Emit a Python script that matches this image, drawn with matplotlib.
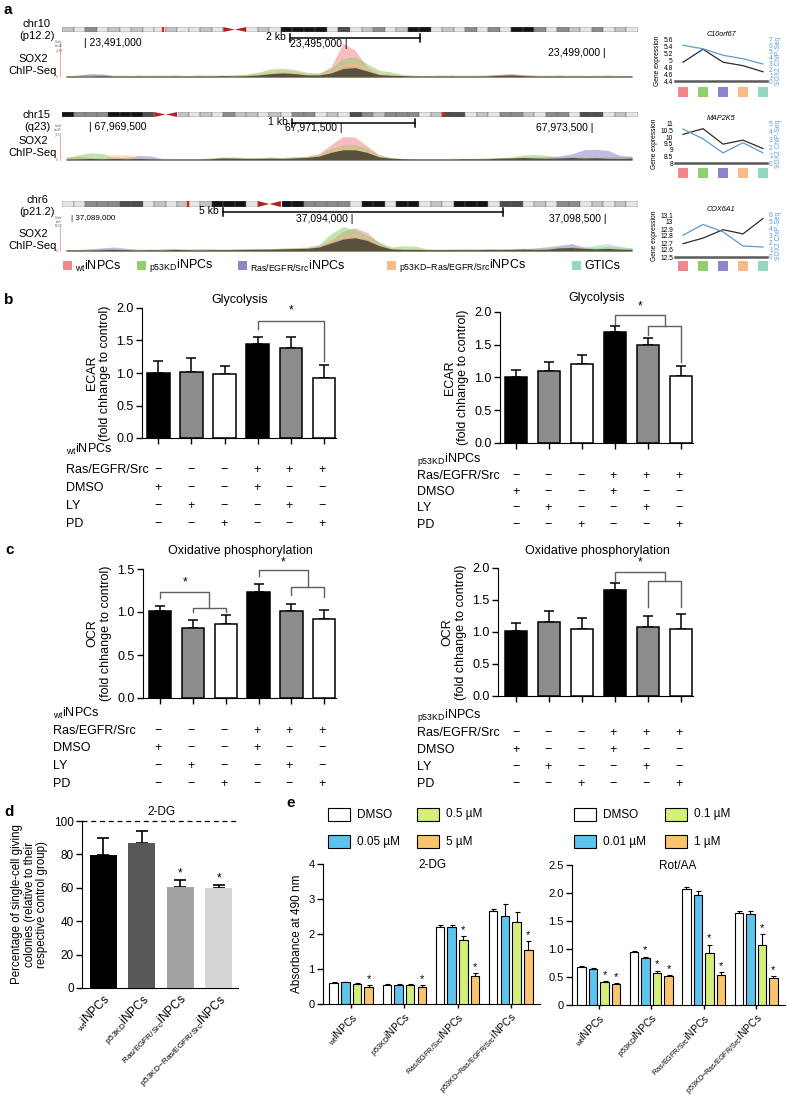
import numpy as np
import matplotlib
matplotlib.use('Agg')
import matplotlib.pyplot as plt
from matplotlib.patches import Rectangle, Polygon
from matplotlib.ticker import FormatStrFormatter

plt.rcParams['font.family'] = ['Liberation Sans', 'DejaVu Sans']
plt.rcParams['mathtext.fontset'] = 'custom'
plt.rcParams['mathtext.rm'] = 'Liberation Sans'
plt.rcParams['mathtext.it'] = 'Liberation Sans:italic'
plt.rcParams['mathtext.bf'] = 'Liberation Sans:bold'
plt.rcParams['mathtext.sf'] = 'Liberation Sans'

# ============================ DATA ============================
SAMPLE_NAMES = ['wt', 'p53KD', 'Ras/EGFR/Src', 'p53KD{-}Ras/EGFR/Src', 'GTICs']

# --- panel a: SOX2 ChIP-seq coverage (48 bins per locus, relative units) ---
CHR10_WT = [0.4,0.5,0.8,0.6,0.3,0.4,0.5,0.3,0.4,0.6,0.4,0.3,0.4,0.5,0.4,0.6,0.8,1.2,1.5,1.3,0.9,1.0,3.0,10.0,8.0,3.0,1.0,0.6,0.5,0.4,0.4,0.5,0.3,0.4,0.5,0.6,0.8,1.0,0.7,0.5,0.4,0.5,0.4,0.3,0.5,0.4,0.3,0.4]
CHR10_KD = [0.5,0.4,0.5,0.7,0.4,0.5,0.3,0.6,0.5,0.4,0.3,0.5,0.6,0.4,0.7,0.9,1.5,2.4,2.6,2.2,1.4,1.2,2.5,5.5,6.0,4.0,2.0,1.5,0.7,0.5,0.4,0.6,0.4,0.5,0.3,0.5,0.6,0.7,0.5,0.4,0.5,0.6,0.3,0.4,0.5,0.4,0.5,0.4]
CHR10_RAS = [0.3,0.6,1.0,0.9,0.4,0.3,0.5,0.4,0.3,0.5,0.4,0.6,0.3,0.4,0.5,0.4,0.6,1.0,1.2,1.0,0.6,0.7,1.2,3.0,3.2,2.0,0.8,0.5,0.4,0.3,0.5,0.4,0.6,0.3,0.4,0.5,0.7,0.9,0.6,0.4,0.3,0.4,0.5,0.4,0.3,0.5,0.4,0.3]
CHR10_KDRAS = [0.4,0.3,0.5,0.4,0.6,0.5,0.4,0.3,0.6,0.4,0.5,0.3,0.4,0.6,0.5,0.7,1.2,2.0,2.2,1.8,1.0,0.9,1.8,4.0,4.5,2.8,1.2,0.8,0.5,0.4,0.3,0.5,0.4,0.6,0.4,0.3,0.6,0.8,0.5,0.6,0.4,0.3,0.5,0.6,0.4,0.3,0.4,0.5]
CHR10_GTIC = [0.3,0.4,0.3,0.5,0.3,0.4,0.6,0.4,0.3,0.3,0.5,0.4,0.3,0.4,0.3,0.5,0.8,1.2,1.4,1.1,0.6,0.6,1.2,2.5,2.8,1.8,0.7,0.5,0.4,0.5,0.4,0.3,0.5,0.4,0.6,0.4,0.5,0.6,0.4,0.3,0.5,0.4,0.4,0.3,0.5,0.6,0.4,0.3]

CHR15_WT = [1.2,1.5,1.0,0.8,0.6,0.5,0.6,0.5,0.4,0.5,0.4,0.5,0.6,0.8,0.7,0.6,0.8,0.9,1.0,1.2,1.5,2.5,6.0,9.2,9.0,5.5,2.0,0.8,0.5,0.6,0.4,0.5,0.4,0.6,0.5,0.7,0.8,0.9,1.0,0.8,0.7,0.9,1.0,0.8,0.9,0.7,0.6,0.8]
CHR15_KD = [0.8,2.0,2.8,2.6,1.2,1.0,0.8,0.6,0.5,0.6,0.5,0.6,0.8,1.2,1.0,0.8,1.0,1.2,1.0,1.2,1.4,2.0,4.5,6.0,6.0,4.5,2.0,1.0,0.6,0.5,0.6,0.5,0.7,0.6,0.6,0.8,0.9,1.2,2.0,2.2,1.8,1.0,1.2,1.2,1.0,1.2,1.4,1.0]
CHR15_RAS = [0.4,0.5,0.6,0.5,0.8,1.0,1.8,1.6,0.6,0.5,0.4,0.5,0.6,0.9,1.0,0.8,0.7,0.8,0.6,0.8,1.0,1.5,3.0,4.0,4.0,3.0,1.2,0.7,0.5,0.4,0.5,0.4,0.5,0.6,0.5,0.6,0.7,0.8,1.0,1.0,1.2,1.6,2.4,4.0,4.2,3.8,1.8,1.5]
CHR15_KDRAS = [0.6,0.8,1.0,0.8,2.0,2.0,1.0,0.7,0.5,0.6,0.5,0.4,0.7,1.0,1.2,1.0,0.8,0.9,0.8,1.0,1.2,1.8,4.0,5.5,5.2,4.0,1.5,0.8,0.6,0.5,0.4,0.5,0.6,0.5,0.7,0.6,0.8,1.0,1.2,1.3,1.0,0.9,1.0,1.2,1.1,1.0,0.9,0.8]
CHR15_GTIC = [0.5,0.6,0.8,0.7,0.6,0.7,0.8,0.6,0.5,0.4,0.5,0.4,0.5,0.8,0.7,0.6,0.6,0.7,0.8,0.9,1.0,1.5,3.0,4.0,4.2,3.0,1.2,0.7,0.5,0.4,0.5,0.6,0.4,0.5,0.6,0.5,0.7,0.8,1.0,1.1,0.9,0.8,1.0,1.0,1.2,1.0,0.8,0.9]

CHR6_WT = [0.5,0.6,0.4,0.8,0.6,0.5,0.4,0.6,0.5,0.7,0.5,0.4,0.5,0.6,0.5,0.7,0.6,0.8,0.9,1.0,1.2,1.8,4.0,7.5,8.8,7.0,3.0,1.0,0.7,0.6,0.5,0.6,0.5,0.7,0.5,0.6,0.5,0.7,0.8,0.6,0.7,1.2,1.5,1.0,0.8,1.0,0.7,0.6]
CHR6_KD = [0.6,0.5,0.7,0.6,0.8,0.6,0.7,0.5,0.8,1.0,0.7,0.6,0.9,0.7,0.8,0.9,1.0,0.8,1.2,1.3,1.5,2.5,6.5,9.2,8.0,6.0,3.5,1.5,2.0,1.8,0.8,0.7,0.6,0.8,0.7,0.6,0.8,0.9,1.0,0.9,1.0,1.3,1.5,1.2,1.2,1.8,1.5,1.2]
CHR6_RAS = [0.4,0.6,0.8,1.2,1.5,1.0,0.6,0.5,0.7,0.6,0.5,0.8,0.6,0.5,0.7,0.6,0.8,0.7,0.9,1.0,1.2,1.6,3.5,5.0,5.5,4.5,2.0,0.8,0.6,0.7,0.5,0.6,0.7,0.5,0.6,0.8,0.7,0.6,0.9,1.2,1.6,2.2,2.8,1.5,0.9,1.0,0.8,0.7]
CHR6_KDRAS = [0.5,0.4,0.6,0.5,0.7,0.6,0.5,0.6,0.4,0.6,0.8,0.6,0.5,0.7,0.6,0.8,0.7,0.9,1.0,1.1,1.3,2.0,4.5,6.0,6.5,5.0,2.5,1.0,0.8,0.7,0.6,0.5,0.7,0.6,0.8,0.6,0.7,0.8,0.7,0.9,1.0,1.2,1.4,1.1,1.0,1.2,0.9,0.8]
CHR6_GTIC = [0.4,0.5,0.6,0.5,0.6,0.5,0.6,0.7,0.5,0.6,0.5,0.7,0.6,0.5,0.6,0.7,0.6,0.8,0.8,0.9,1.0,1.5,3.0,4.5,5.0,4.0,2.0,0.8,0.7,0.6,0.7,0.5,0.6,0.7,0.6,0.7,0.8,0.7,0.8,1.0,1.1,1.2,1.3,1.6,2.2,2.8,1.8,1.0]

# ideogram band stain levels (0 light .. 4 black, -1 centromere) and locus position (band units)
CHR10_BANDS = [1,0,2,0,1,0,1,0,0,1,0,0,1,0,-1,-1,0,1,0,4,4,4,4,0,3,0,1,2,0,1,4,4,0,1,0,2,0,2,0,4,4,2,0,2,1,0,2,0,1,0]
CHR15_BANDS = [4,2,2,2,4,4,4,3,-1,-1,1,0,1,0,2,1,1,0,1,0,2,2,0,1,0,3,2,1,2,2,2,0,1,3,3,0,1,0,2,2,1,0,2,2,0,3,3,0,1,0]
CHR6_BANDS = [0,0,2,2,2,3,3,0,1,0,1,0,1,4,4,4,0,-1,-1,4,4,2,2,2,2,0,4,4,0,4,4,0,1,0,4,4,4,0,3,3,0,1,0,2,2,0,1,0,1,0]
CHR10_LOCUS = 8.8
CHR15_LOCUS = 33.1
CHR6_LOCUS = 10.9

# --- panel a right: expression vs SOX2 ChIP ---
C10_EXPR = [4.95, 5.33, 4.95, 4.85, 4.67]
C10_CHIP = [6.1, 5.5, 4.4, 3.8, 2.9]
MAP_EXPR = [10.2, 10.64, 9.45, 9.76, 9.11]
MAP_CHIP = [4.35, 3.1, 1.3, 2.6, 1.3]
COX_EXPR = [12.69, 12.77, 12.89, 12.83, 13.05]
COX_CHIP = [3.1, 4.65, 3.6, 1.57, 1.43]

# --- panel b/c ---
TABLE_ROWS = ['Ras/EGFR/Src', 'DMSO', 'LY', 'PD']
TABLE_SIGNS = [['−', '−', '−', '+', '+', '+'],
               ['+', '−', '−', '+', '−', '−'],
               ['−', '+', '−', '−', '+', '−'],
               ['−', '−', '+', '−', '−', '+']]
B_WT_VALS = [1.00, 1.02, 0.99, 1.44, 1.39, 0.93]
B_WT_ERR = [0.18, 0.21, 0.12, 0.12, 0.17, 0.19]
B_KD_VALS = [1.01, 1.10, 1.20, 1.69, 1.49, 1.03]
B_KD_ERR = [0.10, 0.13, 0.15, 0.09, 0.12, 0.15]
C_WT_VALS = [1.01, 0.81, 0.86, 1.23, 1.01, 0.92]
C_WT_ERR = [0.06, 0.10, 0.10, 0.10, 0.08, 0.10]
C_KD_VALS = [1.01, 1.15, 1.05, 1.65, 1.08, 1.05]
C_KD_ERR = [0.13, 0.18, 0.17, 0.12, 0.17, 0.23]

# --- panel d ---
D_GROUPS = ['wt', 'p53KD', 'Ras/EGFR/Src', 'p53KD{-}Ras/EGFR/Src']
D_VALS = [79.4, 87.0, 60.6, 59.6]
D_ERR = [10.5, 6.8, 3.8, 2.2]
D_STARS = [False, False, True, True]

# --- panel e ---
E_DG_DOSES = ['DMSO', '0.05 µM', '0.5 µM', '5 µM']
E_DG_DMSO = [0.60, 0.55, 2.20, 2.66]
E_DG_LOW = [0.62, 0.55, 2.20, 2.51]
E_DG_MID = [0.58, 0.54, 1.82, 2.34]
E_DG_HIGH = [0.50, 0.50, 0.80, 1.55]
E_DG_ERR = [[0.02, 0.02, 0.06, 0.06], [0.02, 0.02, 0.06, 0.35],
            [0.02, 0.02, 0.12, 0.29], [0.03, 0.03, 0.08, 0.25]]
E_DG_STAR = [[0, 0, 0, 0], [0, 0, 0, 0], [0, 0, 1, 0], [1, 1, 1, 1]]

E_RA_DOSES = ['DMSO', '0.01 µM', '0.1 µM', '1 µM']
E_RA_DMSO = [0.67, 0.94, 2.07, 1.64]
E_RA_LOW = [0.64, 0.84, 1.96, 1.62]
E_RA_MID = [0.41, 0.58, 0.93, 1.08]
E_RA_HIGH = [0.37, 0.51, 0.54, 0.49]
E_RA_ERR = [[0.02, 0.02, 0.03, 0.04], [0.02, 0.02, 0.07, 0.05],
            [0.02, 0.03, 0.15, 0.18], [0.02, 0.02, 0.05, 0.02]]
E_RA_STAR = [[0, 0, 0, 0], [0, 1, 0, 0], [1, 1, 1, 1], [1, 1, 1, 1]]

# ============================ STYLE ============================
SAMPLE_COLORS = ['#f2878b', '#8fcf6f', '#8a86cc', '#f9bb86', '#93d8bd']
BAND_COLORS = {0: '#e6e6e6', 1: '#c4c4c4', 2: '#8c8c8c', 3: '#4d4d4d', 4: '#141414'}
BAR_FILL = ['black', '#8c8c8c', 'white', 'black', '#8c8c8c', 'white']
D_COLORS = ['#000000', '#585858', '#a3a3a3', '#d4d4d4']
E_COLORS = ['white', '#5ec4ee', '#d3ee79', '#f9c46e']
BLUE = '#5b9bd5'

W, H = 788, 1113
fig = plt.figure(figsize=(W / 100, H / 100), dpi=100)


def px_ax(x0, y0, x1, y1, **kw):
    return fig.add_axes([x0 / W, 1 - y1 / H, (x1 - x0) / W, (y1 - y0) / H], **kw)


ov = fig.add_axes([0, 0, 1, 1], zorder=30)
ov.set_xlim(0, W)
ov.set_ylim(H, 0)
ov.axis('off')


def T(x, y, s, **kw):
    kw.setdefault('fontsize', 8.5)
    kw.setdefault('va', 'center')
    ov.text(x, y, s, **kw)


def sub(prefix, main='iNPCs'):
    return r'$_{\mathrm{%s}}$%s' % (prefix, main)


# panel letters
for lx, ly, l in [(4, 10, 'a'), (4, 300, 'b'), (5, 550, 'c'), (4, 812, 'd'), (286, 803, 'e')]:
    T(lx, ly, l, fontsize=11, fontweight='bold')

# ============================ PANEL A ============================
tracks = [
    dict(bands=CHR10_BANDS, locus=CHR10_LOCUS, ideo=(27, 32), chrom='chr10\n(p12.2)', chrom_y=30,
         sig=[CHR10_WT, CHR10_KD, CHR10_RAS, CHR10_KDRAS, CHR10_GTIC], base=77, top=40, ymax=11.0,
         sox_y=65, scale=('2 kb', 290, 420, 38), coords=[('| 23,491,000', 84, 43, 'left', 7.5),
                                                        ('23,495,000 |', 348, 44, 'right', 7.5),
                                                        ('23,499,000 |', 606, 53, 'right', 7.5)],
         scl='Scale\nchr10\n_0.87', scl_y=46),
    dict(bands=CHR15_BANDS, locus=CHR15_LOCUS, ideo=(112, 117), chrom='chr15\n(q23)', chrom_y=121,
         sig=[CHR15_WT, CHR15_KD, CHR15_RAS, CHR15_KDRAS, CHR15_GTIC], base=160, top=133, ymax=10.6,
         sox_y=147, scale=('1 kb', 292, 415, 123), coords=[('| 67,969,500', 89, 127, 'left', 7.5),
                                                           ('67,971,500 |', 343, 128, 'right', 7.5),
                                                           ('67,973,500 |', 593, 128, 'right', 7.5)],
         scl='Scale\nchr15\n_0.57', scl_y=130),
    dict(bands=CHR6_BANDS, locus=CHR6_LOCUS, ideo=(201, 207), chrom='chr6\n(p21.2)', chrom_y=206,
         sig=[CHR6_WT, CHR6_KD, CHR6_RAS, CHR6_KDRAS, CHR6_GTIC], base=251, top=224, ymax=10.2,
         sox_y=240, scale=('5 kb', 223, 503, 212), coords=[('| 37,089,000', 71, 219, 'left', 5.8),
                                                           ('37,094,000 |', 353, 219, 'right', 7.5),
                                                           ('37,098,500 |', 607, 219, 'right', 7.5)],
         scl='Scale\nchr6\n12.58', scl_y=222),
]

for tr in tracks:
    # ideogram
    iy0, iy1 = tr['ideo']
    iax = px_ax(62, iy0, 638, iy1)
    nb = len(tr['bands'])
    iax.set_xlim(0, nb)
    iax.set_ylim(0, 1)
    iax.axis('off')
    xs = np.arange(nb)
    cols = [BAND_COLORS[b] if b >= 0 else 'white' for b in tr['bands']]
    iax.bar(xs, 1, width=1.0, align='edge', color=cols, edgecolor='#666666', linewidth=0.3)
    cen = [i for i, b in enumerate(tr['bands']) if b < 0]
    if cen:
        c0, c1 = cen[0], cen[-1] + 1
        cm = (c0 + c1) / 2
        iax.bar([c0], 1, width=c1 - c0, align='edge', color='white', edgecolor='white', linewidth=0.8)
        iax.add_patch(Polygon([[c0, 0], [c0, 1], [cm, 0.5]], closed=True, color='#b22222', lw=0))
        iax.add_patch(Polygon([[c1, 0], [c1, 1], [cm, 0.5]], closed=True, color='#b22222', lw=0))
    iax.axvline(tr['locus'], color='#e0201e', lw=1.6)
    # chrom label
    T(37, tr['chrom_y'], tr['chrom'], ha='center', fontsize=8, linespacing=1.15)
    # scale bar
    lab, sx0, sx1, sy = tr['scale']
    ov.plot([sx0, sx1], [sy, sy], color='black', lw=1.1)
    ov.plot([sx0, sx0], [sy - 4, sy + 4], color='black', lw=1.1)
    ov.plot([sx1, sx1], [sy - 4, sy + 4], color='black', lw=1.1)
    T(sx0 - 4, sy - 1, lab, ha='right', fontsize=7.5)
    for txt, cx, cy, ha, fs in tr['coords']:
        T(cx, cy, txt, ha=ha, fontsize=fs)
    # ChIP-seq track
    tax = px_ax(60, tr['top'], 638, tr['base'])
    tax.set_xlim(-0.5, 47.5)
    tax.set_ylim(0, tr['ymax'])
    tax.axis('off')
    xb = np.arange(len(tr['sig'][0]))
    for vals, c in zip(tr['sig'], SAMPLE_COLORS):
        tax.fill_between(xb, 0, vals, color=c, alpha=0.55, lw=0)
    stack = np.array(tr['sig'])
    tax.fill_between(xb, 0, stack.min(axis=0), color='#3b2a16', alpha=0.75, lw=0)
    ov.plot([60, 60], [tr['top'] + 3, tr['base']], color='#f08080', lw=0.5)
    T(62, tr['scl_y'], tr['scl'], ha='right', fontsize=2.2, color='#555555', linespacing=1.0)
    T(58, tr['base'], '0', ha='right', fontsize=2.2, color='#555555')
    T(33, tr['sox_y'], 'SOX2\nChIP-Seq', ha='center', fontsize=8, linespacing=1.15)

# legend row
leg_items = [(63, sub('wt')), (137, sub('p53KD')), (238, sub('Ras/EGFR/Src')),
             (387, sub('p53KD{-}Ras/EGFR/Src')), (572, 'GTICs')]
for (lx, lab), c in zip(leg_items, SAMPLE_COLORS):
    ov.add_patch(Rectangle((lx, 261), 9, 9, color=c, lw=0))
    T(lx + 12, 266, lab, ha='left', fontsize=9)

# mini charts
minis = [
    dict(box=(675, 40, 767, 81), title='C10orf67', expr=C10_EXPR, chip=C10_CHIP, ylim=(4.4, 5.6),
         yt=[4.4, 4.6, 4.8, 5.0, 5.2, 5.4, 5.6], ytl=['4.4', '4.6', '4.8', '5', '5.2', '5.4', '5.6'],
         rlim=(0, 7), rt=list(range(8)), sq=10),
    dict(box=(675, 124, 767, 163), title='MAP2K5', expr=MAP_EXPR, chip=MAP_CHIP, ylim=(8, 11),
         yt=[8, 8.5, 9, 9.5, 10, 10.5, 11], ytl=['8', '8.5', '9', '9.5', '10', '10.5', '11'],
         rlim=(0, 5), rt=list(range(6)), sq=9),
    dict(box=(675, 215, 767, 257), title='COX6A1', expr=COX_EXPR, chip=COX_CHIP, ylim=(12.5, 13.1),
         yt=[12.5, 12.6, 12.7, 12.8, 12.9, 13.0, 13.1],
         ytl=['12.5', '12.6', '12.7', '12.8', '12.9', '13', '13.1'],
         rlim=(0, 6), rt=list(range(7)), sq=8),
]
for m in minis:
    x0, y0, x1, y1 = m['box']
    ax = px_ax(x0, y0, x1, y1)
    xx = np.arange(len(m['expr']))
    ax.plot(xx, m['expr'], color='#2b2b2b', lw=0.9, zorder=3)
    ax.set_xlim(-0.4, 4.2)
    ax.set_ylim(*m['ylim'])
    ax.set_yticks(m['yt'])
    ax.set_yticklabels(m['ytl'], fontsize=4.8)
    ax.tick_params(axis='y', length=0, pad=1.5)
    ax.set_xticks([])
    for s in ['top', 'right', 'left']:
        ax.spines[s].set_visible(False)
    ax.spines['bottom'].set_color('#5a5a5a')
    ax.spines['bottom'].set_linewidth(1.8)
    ax.set_ylabel('Gene expression', fontsize=4.8, labelpad=1.5)
    ax.set_title(m['title'], fontstyle='italic', fontsize=5.2, pad=3)
    ax2 = ax.twinx()
    ax2.plot(xx, m['chip'], color=BLUE, lw=0.9)
    ax2.set_ylim(*m['rlim'])
    ax2.set_yticks(m['rt'])
    ax2.set_yticklabels([str(v) for v in m['rt']], fontsize=4.8, color=BLUE)
    ax2.tick_params(axis='y', length=0, pad=1.5)
    for s in ['top', 'right', 'left', 'bottom']:
        ax2.spines[s].set_visible(False)
    ax2.set_ylabel('SOX2 ChIP-Seq', fontsize=4.8, color=BLUE, labelpad=1.5)
    sq_frac = -(m['sq'] + 1) / (y1 - y0)
    ax.scatter(xx, [sq_frac] * len(xx), marker='s', s=44, c=SAMPLE_COLORS,
               transform=ax.get_xaxis_transform(), clip_on=False, linewidths=0)

# ============================ PANELS B/C ============================


def bar_panel(box, vals, errs, ymax, ylabel, title, title_xy, xl):
    ax = px_ax(*box)
    x = np.arange(len(vals))
    ax.bar(x, vals, 0.68, color=BAR_FILL, edgecolor='black', linewidth=1.1, zorder=3)
    ax.errorbar(x, vals, yerr=[np.zeros(len(vals)), errs], fmt='none', ecolor='black',
                elinewidth=1.1, capsize=3.6, capthick=1.1, zorder=2)
    ax.set_xlim(xl, 5.36)
    ax.set_ylim(0, ymax)
    ax.set_yticks(np.arange(0, ymax + 1e-9, 0.5))
    ax.yaxis.set_major_formatter(FormatStrFormatter('%.1f'))
    ax.set_xticks(x)
    ax.set_xticklabels([])
    ax.tick_params(axis='both', length=4, width=1.0, labelsize=9, pad=2)
    for s in ['top', 'right']:
        ax.spines[s].set_visible(False)
    ax.set_ylabel(ylabel, fontsize=9, linespacing=1.1, labelpad=4)
    T(title_xy[0], title_xy[1], title, ha='center', fontsize=9)
    return ax


def bracket(ax, pts, star):
    xs, ys = zip(*pts)
    ax.plot(xs, ys, color='#606060', lw=1.0, clip_on=False, zorder=4)
    ax.text(star[0], star[1], '*', ha='center', va='center', fontsize=8.5, clip_on=False)


def table(xlab, header, header_y, row_ys, xcols):
    T(xlab, header_y, header, ha='left', fontsize=9)
    for r, (lab, y) in enumerate(zip(TABLE_ROWS, row_ys)):
        T(xlab, y, lab, ha='left', fontsize=9)
        for sgn, xc in zip(TABLE_SIGNS[r], xcols):
            T(xc, y, sgn, ha='center', fontsize=9)


XL = [158, 191, 224, 257, 289, 322]
XR = [516, 548, 581, 613, 646, 679]

# b left
ax = bar_panel((142, 308, 336, 438), B_WT_VALS, B_WT_ERR, 2.0,
               'ECAR\n(fold chhange to control)', 'Glycolysis', (240, 300), -0.49)
bracket(ax, [(3, 1.68), (3, 1.80), (5, 1.80), (5, 1.18)], (4, 1.97))
table(66, sub('wt'), 449, [470, 488, 506, 524], XL)

# b right
ax = bar_panel((500, 312, 693, 443), B_KD_VALS, B_KD_ERR, 2.0,
               'ECAR\n(fold chhange to control)', 'Glycolysis', (597, 298), -0.49)
bracket(ax, [(3, 1.82), (3, 1.95), (4.5, 1.95), (4.5, 1.79)], (3.75, 2.09))
ax.plot([4, 4, 5, 5], [1.65, 1.79, 1.79, 1.24], color='#606060', lw=1.0, clip_on=False, zorder=4)
table(417, sub('p53KD'), 459, [476, 492, 508, 525], XR)

# c left
ax = bar_panel((143, 569, 336, 698), C_WT_VALS, C_WT_ERR, 1.5,
               'OCR\n(fold chhange to control)', 'Oxidative phosphorylation', (240, 551), -0.52)
bracket(ax, [(0, 1.16), (0, 1.23), (1.5, 1.23), (1.5, 1.05)], (0.75, 1.34))
ax.plot([1, 1, 2, 2], [1.0, 1.05, 1.05, 1.0], color='#606060', lw=1.0, clip_on=False, zorder=4)
bracket(ax, [(3, 1.42), (3, 1.49), (4.5, 1.49), (4.5, 1.29)], (3.75, 1.58))
ax.plot([4, 4, 5, 5], [1.20, 1.29, 1.29, 1.17], color='#606060', lw=1.0, clip_on=False, zorder=4)
table(53, sub('wt'), 713, [731, 748, 766, 784], XL)

# c right
ax = bar_panel((498, 568, 693, 696), C_KD_VALS, C_KD_ERR, 2.0,
               'OCR\n(fold chhange to control)', 'Oxidative phosphorylation', (597, 551), -0.55)
bracket(ax, [(3, 1.79), (3, 1.94), (4.5, 1.94), (4.5, 1.80)], (3.75, 2.09))
ax.plot([4, 4, 5, 5], [1.39, 1.80, 1.80, 1.39], color='#606060', lw=1.0, clip_on=False, zorder=4)
table(417, sub('p53KD'), 716, [733, 750, 767, 784], XR)

# ============================ PANEL D ============================
ax = px_ax(82, 821, 238, 988)
xd = np.arange(len(D_VALS))
ax.bar(xd, D_VALS, 0.7, color=D_COLORS, zorder=3)
ax.errorbar(xd, D_VALS, yerr=[np.zeros(len(D_VALS)), D_ERR], fmt='none', ecolor='black',
            elinewidth=1.2, capsize=4.2, capthick=1.2, zorder=2)
for xi, v, e, st in zip(xd, D_VALS, D_ERR, D_STARS):
    if st:
        ax.text(xi, v + e + 4, '*', ha='center', va='center', fontsize=8.5)
ax.axhline(100, color='black', lw=0.9, ls=(0, (4, 3)), zorder=1, clip_on=False)
ax.set_xlim(-0.55, 3.5)
ax.set_ylim(0, 100)
ax.set_yticks([0, 20, 40, 60, 80, 100])
ax.set_xticks(xd)
ax.set_xticklabels([sub(g) for g in D_GROUPS], rotation=45, ha='right', va='top',
                   rotation_mode='anchor', fontsize=7.5)
ax.tick_params(axis='both', length=4, width=1.0, labelsize=8.5, pad=2)
ax.tick_params(axis='x', length=0, pad=3)
for s in ['top', 'right']:
    ax.spines[s].set_visible(False)
ax.set_ylabel('Percentage of single-cell giving\ncolonies (relative to their\nrespective control group)',
              fontsize=8.3, linespacing=1.05, labelpad=4)
T(162, 812, '2-DG', ha='center', fontsize=8.5)

# ============================ PANEL E ============================


def e_panel(box, xl, ymax, yticks, ytl, series, errs, stars, title, title_xy, doses, leg_x, ylabel):
    ax = px_ax(*box)
    offs = [-0.33, -0.11, 0.11, 0.33]
    ng = len(series[0])
    g = np.arange(ng)
    for k, (vals, err, col) in enumerate(zip(series, errs, E_COLORS)):
        xp = g + offs[k]
        ax.bar(xp, vals, 0.16, color=col, edgecolor='black', linewidth=0.8, zorder=3)
        ax.errorbar(xp, vals, yerr=[np.zeros(ng), err], fmt='none', ecolor='black',
                    elinewidth=0.8, capsize=1.8, capthick=0.8, zorder=2)
        for j in range(ng):
            if stars[k][j]:
                ax.text(xp[j], vals[j] + err[j] + 0.045 * ymax, '*', ha='center', va='center', fontsize=8)
    ax.set_xlim(xl, 3.55)
    ax.set_ylim(0, ymax)
    ax.set_yticks(yticks)
    ax.set_yticklabels(ytl)
    ax.set_xticks(g)
    ax.set_xticklabels([sub(gg) for gg in D_GROUPS], rotation=45, ha='right', va='top',
                       rotation_mode='anchor', fontsize=7.5)
    ax.tick_params(axis='y', length=4, width=1.0, labelsize=8, pad=2)
    ax.tick_params(axis='x', length=3, width=1.0, pad=2)
    for s in ['top', 'right']:
        ax.spines[s].set_visible(False)
    if ylabel:
        ax.set_ylabel(ylabel, fontsize=8.5, labelpad=4)
    T(title_xy[0], title_xy[1], title, ha='center', fontsize=8.5)
    # legend: left column DMSO / low dose, right column mid / high dose
    lx0, lx1 = leg_x
    for k, (dose, col) in enumerate(zip(doses, E_COLORS)):
        bx = lx0 if k < 2 else lx1
        by = 808 if k % 2 == 0 else 835
        ov.add_patch(Rectangle((bx, by), 22, 13, facecolor=col, edgecolor='black', lw=0.8))
        T(bx + 29, by + 6.5, dose, ha='left', fontsize=8.5)
    return ax


e_panel((323, 864, 540, 1004), -0.53, 4, [0, 1, 2, 3, 4], ['0', '1', '2', '3', '4'],
        [E_DG_DMSO, E_DG_LOW, E_DG_MID, E_DG_HIGH], E_DG_ERR, E_DG_STAR, '2-DG', (433, 865),
        E_DG_DOSES, (328, 417), 'Absorbance at 490 nm')
e_panel((572, 865, 785, 1005), -0.51, 2.5, [0, 0.5, 1.0, 1.5, 2.0, 2.5],
        ['0', '0.5', '1.0', '1.5', '2.0', '2.5'],
        [E_RA_DMSO, E_RA_LOW, E_RA_MID, E_RA_HIGH], E_RA_ERR, E_RA_STAR, 'Rot/AA', (678, 866),
        E_RA_DOSES, (574, 665), None)

fig.savefig('out.png', dpi=100)
